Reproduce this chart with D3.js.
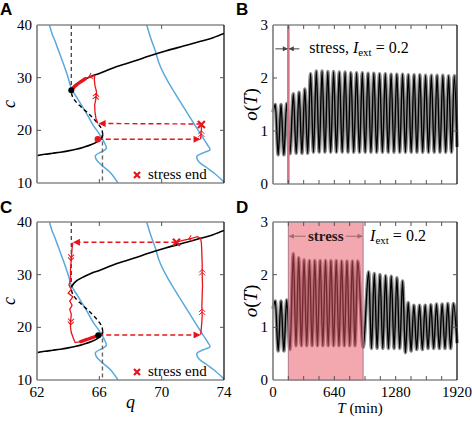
<!DOCTYPE html>
<html><head><meta charset="utf-8">
<script src="https://cdn.jsdelivr.net/npm/d3@7"></script>
<style>body{margin:0;background:#fff}svg{display:block}</style>
</head><body>
<svg id="chart" width="472" height="422"></svg>
<script>
// ---------- data ----------
const qTicks = [62, 66, 70, 74];
const cTicks = [10, 20, 30, 40];
const oTicks = [0, 1, 2, 3];
const tTickLabels = [0, 640, 1280, 1920];
const tMinorTicks = [0,160,320,480,640,800,960,1120,1280,1440,1600,1760,1920];

const nullLower = [[62,15.2],[62.5,15.45],[63,15.65],[63.5,15.85],[64,16.1],[64.5,16.4],[65,16.8],[65.5,17.3],[65.9,17.9],[66.15,18.6],[66.22,19.2]];
const nullMiddle = [[66.22,19.2],[66.15,20.2],[65.9,21.3],[65.4,22.9],[64.85,24.4],[64.45,25.6],[64.25,26.6],[64.2,27.6]];
const nullUpper = [[64.2,27.6],[64.35,28.3],[64.6,28.95],[65.0,29.6],[65.6,30.4],[66.0,30.8],[67,32.0],[68.2,33.1],[69.2,34.1],[70.3,35.1],[71.4,36.0],[72.5,36.9],[73.3,37.6],[74,38.4]];
const blueLeft = [[62.8,40],[62.95,38.5],[63.15,37],[63.4,35],[63.7,32.6],[64.0,30],[64.2,28],[64.6,26],[65.2,23.1],[65.6,21],[66.0,19.3],[66.3,17.8],[66.45,16.6],[66.2,16.0],[65.75,15.2],[65.8,14.5],[66.1,13.5],[66.7,12.0],[67.2,10]];
const blueRight = [[69.04,40],[69.3,37.5],[69.6,35],[69.85,32.6],[70.3,29.8],[70.8,27.3],[71.2,25.4],[71.6,23.5],[72.0,21.6],[72.6,18.8],[72.95,17.2],[73.1,16.3],[72.8,15.9],[72.25,15.0],[72.4,14.0],[72.9,12.9],[73.4,11.8],[74,10.2]];
const foldQ = [64.2, 66.2];

// panel A trajectory
const trajAUp = [[65.9,21.3],[65.78,22.3],[65.72,23.5],[65.7,24.8],[65.78,26.0],[65.82,27.3],[65.72,28.5],[65.68,29.6],[65.7,30.4],[65.4,30.2],[65.1,29.8]];
const trajAThick = [[65.1,29.8],[64.75,29.1],[64.45,28.4],[64.2,27.6]];
const trajARight = [[72.5,18.3],[72.52,19.2],[72.55,20.2],[72.55,21.1]];
const jumpsA = [[65.9,18.3,72.45,18.3],[72.55,21.2,66.0,21.3]];
const startA = [65.9,18.3], endA = [72.55,21.1], dotA = [64.2,27.6];
const chevA = [[65.5,30.35,65.2,30.0,0],[65.78,26.6,65.8,27.4,1],[72.55,19.5,72.55,20.3,1]];

// panel C trajectory
const trajCRight = [[72.5,18.6],[72.55,20],[72.6,22],[72.58,24],[72.6,26],[72.62,28],[72.6,30],[72.6,32],[72.58,34],[72.55,36],[72.5,36.9],[72.3,37.2],[71.8,36.8],[71.3,36.45],[70.95,36.15]];
const trajCLeft = [[64.3,36.1],[64.25,35],[64.2,33],[64.15,31],[64.15,29],[64.05,28],[64.2,27.2],[64.0,26.5],[64.3,25.8],[64.1,25],[64.25,24.2],[64.1,23.4],[64.2,22.5],[64.15,21],[64.15,20],[64.2,19],[64.35,17.8],[64.45,17.1],[64.8,17.3]];
const trajCThick = [[64.8,17.3],[65.2,17.7],[65.6,18.1],[65.93,18.5]];
const jumpsC = [[65.93,18.55,72.45,18.55],[70.95,36.15,64.35,36.15]];
const endC = [70.95,36.15], dotC = [65.93,18.5];
const chevC = [[64.18,33.2,64.16,32.2,1],[64.17,21.0,64.15,20.0,1],[72.6,23.0,72.6,24.0,1],[72.6,30.5,72.6,31.5,1],[71.95,36.95,71.55,36.65,0]];

// time series (peak/trough values)
const preStart = 24, prePeriod = 59.5;
const postStart = 212;
const B_peaks = [1.5,1.5,1.52, 1.70,1.73,1.79,2.08,2.13,2.13,2.12,2.12,2.11,2.11,2.10,2.10,2.10,2.09,2.09,2.08,2.08,2.07,2.07,2.07,2.06,2.06,2.06,2.05,2.05,2.05,2.05,2.04,2.04];
const B_troughs = [0.55,0.55,0.57, 0.58,0.58,0.58,0.6,0.6,0.6,0.6,0.6,0.6,0.6,0.6,0.6,0.6,0.6,0.6,0.6,0.6,0.6,0.6,0.6,0.6,0.6,0.6,0.6,0.6,0.6,0.6,0.6];
const B_periods = [3, 60, 29]; // pre count, post period, post count
const D_peaks = [1.5,1.5,1.52, 2.40,2.32,2.28,2.27,2.27,2.27,2.27,2.27,2.27,2.26,2.26,2.26,2.26, 2.05,2.02,2.0,1.98,1.97,1.94,1.88,1.47,1.42,1.42,1.42,1.43,1.44,1.44,1.45,1.45];
const D_troughs = [0.55,0.55,0.58, 0.65,0.65,0.65,0.65,0.65,0.65,0.65,0.65,0.65,0.65,0.65,0.65,0.62, 0.6,0.6,0.6,0.6,0.6,0.6,0.52,0.55,0.58,0.58,0.6,0.6,0.6,0.6,0.6];
const D_segments = [[212,56,13],[998,59,16]];
const startVal = 1.35, endVal = 0.7, tEnd = 1920;
const stressB = [160, 160];
const stressD = [160, 940];

// ---------- drawing ----------
const svg = d3.select('#chart');
const RED = '#e8141c', BLUE = '#5aa9dc', GRID = '#8a8a8a';
const serif = 'Liberation Serif, Times New Roman, serif';
const defs = svg.append('defs');
function arrowMarker(id, color, w, h) {
  defs.append('marker').attr('id', id).attr('viewBox', '0 0 10 10')
    .attr('refX', 9).attr('refY', 5).attr('markerWidth', w).attr('markerHeight', h)
    .attr('markerUnits', 'userSpaceOnUse').attr('orient', 'auto')
    .append('path').attr('d', 'M0,0L10,5L0,10z').attr('fill', color);
}
arrowMarker('arRed', RED, 8, 7);
arrowMarker('arGray', '#444', 6, 5);
arrowMarker('arPink', '#a06a74', 6, 5);

function frame(g, x0, x1, y0, y1) {
  g.append('line').attr('x1', x0).attr('x2', x1).attr('y1', y0).attr('y2', y0).attr('stroke', GRID).attr('stroke-width', 1.6);
  g.append('line').attr('x1', x0).attr('x2', x1).attr('y1', y1).attr('y2', y1).attr('stroke', GRID).attr('stroke-width', 1.6);
  g.append('line').attr('x1', x0).attr('x2', x0).attr('y1', y0).attr('y2', y1).attr('stroke', GRID).attr('stroke-width', 1.8);
  g.append('line').attr('x1', x1).attr('x2', x1).attr('y1', y0).attr('y2', y1).attr('stroke', '#000').attr('stroke-width', 1.2);
}
function ticksInward(g, xs, ys, x, y, x0, x1, y0, y1) {
  xs.forEach(v => {
    g.append('line').attr('x1', x(v)).attr('x2', x(v)).attr('y1', y0).attr('y2', y0 + 4).attr('stroke', '#555');
    g.append('line').attr('x1', x(v)).attr('x2', x(v)).attr('y1', y1).attr('y2', y1 - 4).attr('stroke', '#555');
  });
  ys.forEach(v => {
    g.append('line').attr('x1', x0).attr('x2', x0 + 4).attr('y1', y(v)).attr('y2', y(v)).attr('stroke', '#555');
    g.append('line').attr('x1', x1).attr('x2', x1 - 4).attr('y1', y(v)).attr('y2', y(v)).attr('stroke', '#555');
  });
}
function crossMark(g, px, py, s) {
  g.append('path').attr('d', `M${px-s},${py-s}L${px+s},${py+s}M${px-s},${py+s}L${px+s},${py-s}`)
    .attr('stroke', RED).attr('stroke-width', 2.2).attr('fill', 'none');
}

function phasePanel(P) {
  const g = svg.append('g');
  const x = d3.scaleLinear([62, 74], [P.x0, P.x1]);
  const y = d3.scaleLinear([10, 40], [P.y1, P.y0]);
  const clipId = 'clip' + P.id;
  defs.append('clipPath').attr('id', clipId).append('rect').attr('x', P.x0).attr('y', P.y0).attr('width', P.x1 - P.x0).attr('height', P.y1 - P.y0);
  const pc = g.append('g').attr('clip-path', `url(#${clipId})`);
  const line = d3.line().x(d => x(d[0])).y(d => y(d[1])).curve(d3.curveCatmullRom);
  const lineLin = d3.line().x(d => x(d[0])).y(d => y(d[1]));
  [blueLeft, blueRight].forEach(b => pc.append('path').attr('d', line(b)).attr('fill', 'none').attr('stroke', BLUE).attr('stroke-width', 1.5));
  pc.append('line').attr('x1', x(foldQ[0])).attr('x2', x(foldQ[0])).attr('y1', y(40)).attr('y2', y(27.6)).attr('stroke', '#333').attr('stroke-width', 1.2).attr('stroke-dasharray', '4,3');
  pc.append('line').attr('x1', x(foldQ[1])).attr('x2', x(foldQ[1])).attr('y1', y(19.2)).attr('y2', y(10)).attr('stroke', '#666').attr('stroke-width', 1.4).attr('stroke-dasharray', '4,3');
  pc.append('path').attr('d', line(nullLower)).attr('fill', 'none').attr('stroke', '#000').attr('stroke-width', 1.6);
  pc.append('path').attr('d', line(nullUpper)).attr('fill', 'none').attr('stroke', '#000').attr('stroke-width', 1.6);
  pc.append('path').attr('d', line(nullMiddle)).attr('fill', 'none').attr('stroke', '#000').attr('stroke-width', 1.4).attr('stroke-dasharray', '4,3');
  P.thin.forEach(t => g.append('path').attr('d', lineLin(t)).attr('fill', 'none').attr('stroke', RED).attr('stroke-width', 1.3));
  g.append('path').attr('d', line(P.thick)).attr('fill', 'none').attr('stroke', RED).attr('stroke-width', 3.4).attr('stroke-linecap', 'round');
  P.jumps.forEach(j => g.append('line').attr('x1', x(j[0])).attr('y1', y(j[1])).attr('x2', x(j[2])).attr('y2', y(j[3]))
    .attr('stroke', RED).attr('stroke-width', 1.4).attr('stroke-dasharray', '5,3').attr('marker-end', 'url(#arRed)'));
  P.chev.forEach(c => {
    const ax = x(c[0]), ay = y(c[1]), bx = x(c[2]), by = y(c[3]);
    const ang = Math.atan2(by - ay, bx - ax) * 180 / Math.PI;
    const mx = (ax + bx) / 2, my = (ay + by) / 2;
    let d = 'M-3,-3L0,0L-3,3';
    if (c[4]) d += 'M-6,-3L-3,0L-6,3';
    g.append('path').attr('d', d).attr('transform', `translate(${mx},${my}) rotate(${ang})`).attr('fill', 'none').attr('stroke', RED).attr('stroke-width', 1);
  });
  if (P.start) g.append('circle').attr('cx', x(P.start[0])).attr('cy', y(P.start[1])).attr('r', 3.2).attr('fill', RED);
  g.append('circle').attr('cx', x(P.dot[0])).attr('cy', y(P.dot[1])).attr('r', 3).attr('fill', '#000');
  crossMark(g, x(P.end[0]), y(P.end[1]), 3.5);
  crossMark(g, P.x0 + 100, P.y1 - 8, 3);
  g.append('text').attr('x', P.x0 + 111).attr('y', P.y1 - 4).attr('font-family', serif).attr('font-size', 15).text('stress end');
  frame(g, P.x0, P.x1, P.y0, P.y1);
  ticksInward(g, qTicks.slice(1, -1), cTicks.slice(1, -1), x, y, P.x0, P.x1, P.y0, P.y1);
  cTicks.forEach(v => g.append('text').attr('x', P.x0 - 5).attr('y', y(v) + 5).attr('text-anchor', 'end')
    .attr('font-family', serif).attr('font-size', 15).text(v));
  if (P.xlabels) {
    qTicks.forEach(v => g.append('text').attr('x', x(v)).attr('y', P.y1 + 17).attr('text-anchor', 'middle')
      .attr('font-family', serif).attr('font-size', 15).text(v));
    g.append('text').attr('x', (P.x0 + P.x1) / 2).attr('y', P.y1 + 28).attr('text-anchor', 'middle')
      .attr('font-family', serif).attr('font-style', 'italic').attr('font-size', 18).text('q');
  }
  g.append('text').attr('transform', `translate(${P.x0 - 22},${(P.y0 + P.y1) / 2}) rotate(-90)`).attr('text-anchor', 'middle')
    .attr('font-family', serif).attr('font-style', 'italic').attr('font-size', 18).text('c');
  svg.append('text').attr('x', P.lx).attr('y', P.ly).attr('font-family', 'Liberation Sans, Arial, sans-serif')
    .attr('font-weight', 'bold').attr('font-size', 17).text(P.id);
}

phasePanel({id: 'A', x0: 37, x1: 224, y0: 25, y1: 183, lx: 0, ly: 15,
  thin: [trajAUp, trajARight], thick: trajAThick, jumps: jumpsA, chev: chevA, start: startA, dot: dotA, end: endA, xlabels: false});
phasePanel({id: 'C', x0: 37, x1: 224, y0: 222, y1: 380, lx: 0, ly: 213,
  thin: [trajCRight, trajCLeft], thick: trajCThick, jumps: jumpsC, chev: chevC, start: null, dot: dotC, end: endC, xlabels: true});

function buildSeries(peaks, troughs, segs) {
  const times = [];
  for (let i = 0; i < 3; i++) times.push(preStart + i * prePeriod);
  segs.forEach(s => { for (let i = 0; i < s[2]; i++) times.push(s[0] + i * s[1]); });
  const pts = [[0, startVal]];
  times.forEach((t, i) => {
    pts.push([t, peaks[i]]);
    if (i < times.length - 1) pts.push([(t + times[i + 1]) / 2, troughs[i]]);
  });
  pts.push([tEnd, endVal]);
  return pts;
}

function timePanel(P) {
  const g = svg.append('g');
  const x = d3.scaleLinear([0, 1920], [P.x0, P.x1]);
  const y = d3.scaleLinear([0, 3], [P.y1, P.y0]);
  const line = d3.line().x(d => x(d[0])).y(d => y(d[1])).curve(d3.curveMonotoneX);
  const pts = buildSeries(P.peaks, P.troughs, P.segs);
  g.append('path').attr('d', line(pts)).attr('fill', 'none').attr('stroke', '#8c8c8c').attr('stroke-width', 3.6);
  g.append('path').attr('d', line(pts)).attr('fill', 'none').attr('stroke', '#000').attr('stroke-width', 1.4);
  P.stressDraw(g, x, y);
  frame(g, P.x0, P.x1, P.y0, P.y1);
  ticksInward(g, tMinorTicks.slice(1, -1), oTicks.slice(1, -1), x, y, P.x0, P.x1, P.y0, P.y1);
  oTicks.forEach(v => g.append('text').attr('x', P.x0 - 5).attr('y', y(v) + 5).attr('text-anchor', 'end')
    .attr('font-family', serif).attr('font-size', 15).text(v));
  if (P.xlabels) {
    tTickLabels.forEach(v => g.append('text').attr('x', x(v)).attr('y', P.y1 + 17).attr('text-anchor', 'middle')
      .attr('font-family', serif).attr('font-size', 15).text(v));
    const t = g.append('text').attr('x', 360).attr('y', P.y1 + 33).attr('text-anchor', 'middle')
      .attr('font-family', serif).attr('font-size', 15);
    t.append('tspan').attr('font-style', 'italic').text('T');
    t.append('tspan').text(' (min)');
  }
  const yl = g.append('text').attr('transform', `translate(${P.x0 - 16},${(P.y0 + P.y1) / 2}) rotate(-90)`).attr('text-anchor', 'middle')
    .attr('font-family', serif).attr('font-size', 19);
  yl.append('tspan').attr('font-style', 'italic').text('o');
  yl.append('tspan').text('(');
  yl.append('tspan').attr('font-style', 'italic').text('T');
  yl.append('tspan').text(')');
  svg.append('text').attr('x', P.lx).attr('y', P.ly).attr('font-family', 'Liberation Sans, Arial, sans-serif')
    .attr('font-weight', 'bold').attr('font-size', 17).text(P.id);
}
function iext(g, px, py) {
  return g.append('text').attr('x', px).attr('y', py).attr('font-family', serif).attr('font-size', 16);
}

timePanel({id: 'B', x0: 273, x1: 457, y0: 25, y1: 184, lx: 236, ly: 15, peaks: B_peaks, troughs: B_troughs,
  segs: [[postStart, B_periods[1], B_periods[2]]], xlabels: false,
  stressDraw: (g, x, y) => {
    g.append('line').attr('x1', x(stressB[0])).attr('x2', x(stressB[1])).attr('y1', y(3)).attr('y2', y(0))
      .attr('stroke', '#d47585').attr('stroke-width', 2.6);
    const ay = y(2.55);
    g.append('line').attr('x1', x(stressB[0]) - 13).attr('x2', x(stressB[0]) - 1).attr('y1', ay).attr('y2', ay)
      .attr('stroke', '#444').attr('stroke-width', 1).attr('marker-end', 'url(#arGray)');
    g.append('line').attr('x1', x(stressB[1]) + 11).attr('x2', x(stressB[1]) + 1).attr('y1', ay).attr('y2', ay)
      .attr('stroke', '#444').attr('stroke-width', 1).attr('marker-end', 'url(#arGray)');
    const t = iext(g, x(stressB[1]) + 21, ay + 4.5);
    t.append('tspan').text('stress,  ');
    t.append('tspan').attr('font-style', 'italic').text('I');
    t.append('tspan').attr('font-size', 11).attr('dy', 3).text('ext');
    t.append('tspan').attr('dy', -3).text(' = 0.2');
  }});
timePanel({id: 'D', x0: 273, x1: 457, y0: 222, y1: 380, lx: 236, ly: 213, peaks: D_peaks, troughs: D_troughs,
  segs: D_segments, xlabels: true,
  stressDraw: (g, x, y) => {
    g.append('rect').attr('x', x(stressD[0])).attr('y', y(3)).attr('width', x(stressD[1]) - x(stressD[0])).attr('height', y(0) - y(3))
      .attr('fill', '#e8505f').attr('fill-opacity', 0.5).attr('stroke', '#b07a85').attr('stroke-width', 1);
    const ay = y(2.73), mid = (x(stressD[0]) + x(stressD[1])) / 2;
    g.append('line').attr('x1', mid - 20).attr('x2', x(stressD[0]) + 1).attr('y1', ay).attr('y2', ay)
      .attr('stroke', '#a06a74').attr('stroke-width', 1).attr('marker-end', 'url(#arPink)');
    g.append('line').attr('x1', mid + 20).attr('x2', x(stressD[1]) - 1).attr('y1', ay).attr('y2', ay)
      .attr('stroke', '#a06a74').attr('stroke-width', 1).attr('marker-end', 'url(#arPink)');
    g.append('text').attr('x', mid).attr('y', ay + 5).attr('text-anchor', 'middle').attr('font-family', serif)
      .attr('font-size', 15).attr('font-weight', 'bold').attr('fill', '#2a1a1c').text('stress');
    const t = iext(g, x(stressD[1]) + 7, ay + 4.5);
    t.append('tspan').attr('font-style', 'italic').text('I');
    t.append('tspan').attr('font-size', 11).attr('dy', 3).text('ext');
    t.append('tspan').attr('dy', -3).text(' = 0.2');
  }});
</script>
</body></html>
